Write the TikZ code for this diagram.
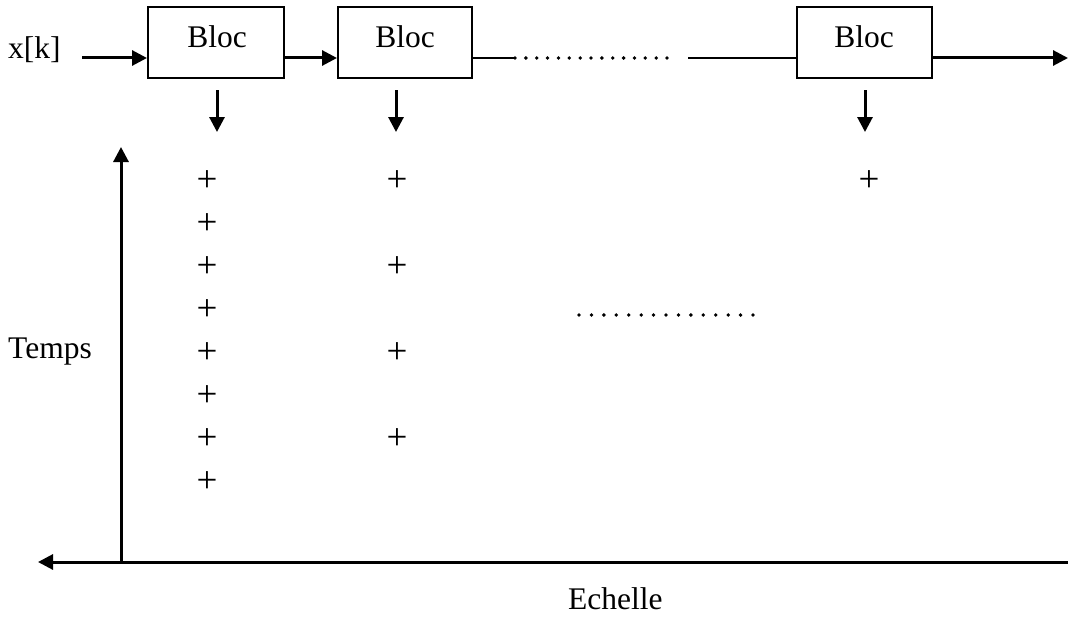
\documentclass[tikz,border=0pt]{standalone}
\usepackage{fontspec}
\setmainfont{Liberation Serif}
\usetikzlibrary{arrows.meta}
\begin{document}
\begin{tikzpicture}[x=1pt,y=-1pt,
  lbl/.style={font=\fontsize{31.5}{36}\selectfont, inner sep=0pt},
  plus/.style={font=\fontsize{37}{42}\selectfont, inner sep=0pt, anchor=base},
  blocbox/.style={draw, line width=2pt, minimum height=71pt, inner sep=0pt},
  flow/.style={line width=3pt, -{Triangle[length=15pt,width=15pt]}},
  axis/.style={line width=3pt, -{Triangle[length=15pt,width=15pt]}},
  thin line/.style={line width=1.6pt},
  pt/.style={fill, circle, inner sep=0pt, minimum size=3.8pt}]
\useasboundingbox (0,0) rectangle (1068,618);

% processing chain
\node[blocbox, minimum width=136pt] (b1) at (216,42.5) {};
\node[blocbox, minimum width=134pt] (b2) at (405,42.5) {};
\node[blocbox, minimum width=135pt] (b3) at (864.5,42.5) {};
\node[lbl, anchor=base] (t1) at (217,48) {Bloc};
\node[lbl, anchor=base] (t2) at (405,48) {Bloc};
\node[lbl, anchor=base] (t3) at (864,48) {Bloc};
\node[lbl, anchor=base west] (xk) at (8,59) {x[k]};

\coordinate (in) at (82,58);
\coordinate (out) at (1068,58);
\coordinate (c2) at (515,58);
\coordinate (c3) at (688,58);
\draw[flow] (in) -- (in -| b1.west);
\draw[flow] (b1.east |- in) -- (b2.west |- in);
\draw[thin line] (b2.east |- in) -- (c2);
\draw[thin line] (c3) -- (b3.west |- in);
\draw[flow] (b3.east |- in) -- (out);
\foreach \i in {0,...,14}
  \node[pt] (ta\i) at ({515+\i*10.86},58) {};

% outputs of each block
\coordinate (d1a) at (217,90);  \coordinate (d1b) at (217,132);
\coordinate (d2a) at (396,90);  \coordinate (d2b) at (396,132);
\coordinate (d3a) at (865,90);  \coordinate (d3b) at (865,132);
\draw[flow] (d1a) -- (d1b);
\draw[flow] (d2a) -- (d2b);
\draw[flow] (d3a) -- (d3b);

% axes
\coordinate (o) at (121,562);
\coordinate (ytip) at (121,147);
\coordinate (xstart) at (1068,562);
\coordinate (xtip) at (38,562);
\draw[axis] (o) -- (ytip);
\draw[axis] (xstart) -- (xtip);
\node[lbl, anchor=base west] (temps) at (8,358) {Temps};
\node[lbl, anchor=base west] (echelle) at (568,609) {Echelle};

% samples
\foreach \r in {0,...,7}
  \node[plus] (pa\r) at (207,{178+\r*43+13}) {+};
\foreach \r in {0,2,4,6}
  \node[plus] (pb\r) at (397,{178+\r*43+13}) {+};
\node[plus] (pc0) at (869,191) {+};
\foreach \i in {0,...,14}
  \node[pt] (ma\i) at ({579+\i*12.43},315) {};
\end{tikzpicture}
\end{document}
